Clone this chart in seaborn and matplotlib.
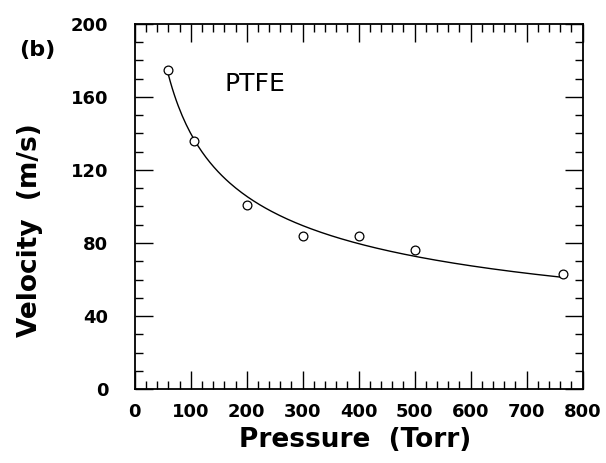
import numpy as np
import pandas as pd
import seaborn as sns
import matplotlib
matplotlib.use("Agg")
import matplotlib.pyplot as plt
from matplotlib.ticker import MultipleLocator

# Data
pressure = [60, 105, 200, 300, 400, 500, 765]      # Torr
velocity = [175, 136, 101, 84, 84, 76, 63]          # m/s

x_ticks = [0, 100, 200, 300, 400, 500, 600, 700, 800]
y_ticks = [0, 40, 80, 120, 160, 200]

sns.set_theme(style="ticks")
plt.rcParams['font.family'] = ['DejaVu Sans']
plt.rcParams['text.color'] = 'black'
plt.rcParams['axes.labelcolor'] = 'black'
plt.rcParams['xtick.color'] = 'black'
plt.rcParams['ytick.color'] = 'black'

df = pd.DataFrame({"Pressure": pressure, "Velocity": velocity})

# Power-law fit v = A * p**b, least squares in linear space
p_arr = df["Pressure"].to_numpy(float)
v_arr = df["Velocity"].to_numpy(float)
best = None
for b in np.linspace(-1.0, -0.1, 901):
    pb = p_arr ** b
    A = np.sum(v_arr * pb) / np.sum(pb * pb)
    sse = np.sum((v_arr - A * pb) ** 2)
    if best is None or sse < best[0]:
        best = (sse, A, b)
_, A_fit, b_fit = best
p_fit = np.linspace(p_arr.min(), p_arr.max(), 200)
fit = pd.DataFrame({"Pressure": p_fit, "Velocity": A_fit * p_fit ** b_fit})

fig = plt.figure(figsize=(6.06, 4.63), dpi=100)
ax = fig.add_axes([0.2223, 0.1598, 0.9615 - 0.2223, 0.9482 - 0.1598])

sns.lineplot(data=fit, x="Pressure", y="Velocity", ax=ax, color="black",
             linewidth=1.0, estimator=None, sort=False)
sns.scatterplot(data=df, x="Pressure", y="Velocity", ax=ax, marker="o",
                s=40, facecolor="white", edgecolor="black", linewidth=0.9,
                zorder=3)

ax.set_xlim(0, 800)
ax.set_ylim(0, 200)
ax.set_xticks(x_ticks)
ax.set_yticks(y_ticks)
ax.set_xticklabels([str(t) for t in x_ticks])
ax.set_yticklabels([str(t) for t in y_ticks])
ax.xaxis.set_minor_locator(MultipleLocator(20))
ax.yaxis.set_minor_locator(MultipleLocator(10))

ax.tick_params(which="both", direction="in", top=True, right=True,
               color="black", width=1.0)
ax.tick_params(which="major", length=13)
ax.tick_params(which="minor", length=5.5)
ax.tick_params(axis="x", which="major", pad=10, labelsize=13)
ax.tick_params(axis="y", which="major", pad=19, labelsize=13)
for lab in ax.get_xticklabels() + ax.get_yticklabels():
    lab.set_fontweight("bold")

for sp in ax.spines.values():
    sp.set_visible(True)
    sp.set_linewidth(1.3)
    sp.set_color("black")

ax.set_xlabel("Pressure  (Torr)", fontsize=19, fontweight="bold")
ax.set_ylabel("Velocity  (m/s)", fontsize=19, fontweight="bold")
ax.xaxis.set_label_coords(0.492, -0.14)
ax.yaxis.set_label_coords(-0.234, 0.436)
ax.xaxis.label.set_va("center")
ax.yaxis.label.set_va("center")

ax.text((255 - 134.7) / 448, (389 - 84) / 365, "PTFE", transform=ax.transAxes,
        fontsize=18, ha="center", va="center", color="black")
fig.text(37 / 606, 1 - 50 / 463, "(b)", fontsize=16, fontweight="bold",
         ha="center", va="center", color="black")

ax.grid(False)
fig.savefig("out.png", dpi=100, facecolor="white")
